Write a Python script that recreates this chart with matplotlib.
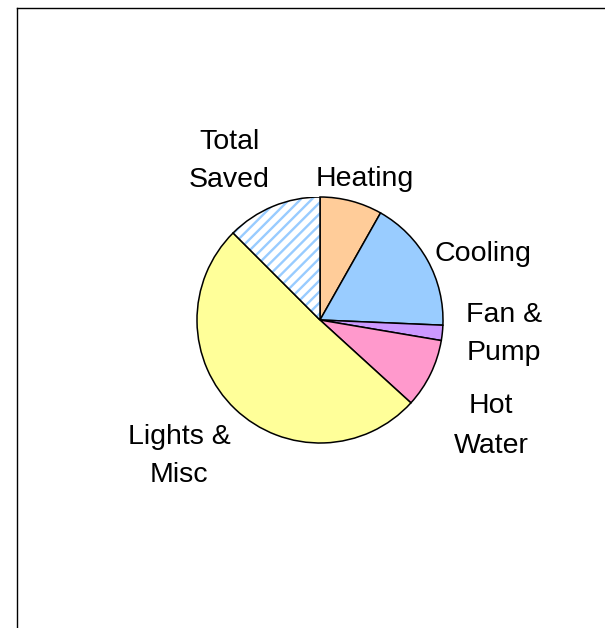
import matplotlib
matplotlib.use("Agg")
import matplotlib.pyplot as plt
from matplotlib.lines import Line2D
from matplotlib.patches import Wedge

categories = ["Heating", "Cooling", "Fan &\nPump", "Hot\nWater", "Lights &\nMisc", "Total\nSaved"]
shares = [8.2, 17.5, 2.0, 9.1, 50.8, 12.5]
colors = ["#FFCC99", "#99CCFF", "#CC99FF", "#FF99CC", "#FFFF99", "#FFFFFF"]
# label centres in pixels (x, y from top) and line spacing per label
label_pos = [(365, 179), (483, 254), (504, 334), (491, 426), (179, 456), (229, 161)]
label_spacing = [1.2, 1.2, 1.6, 1.68, 1.6, 1.63]

W, H = 605, 628
plt.rcParams["font.family"] = ["Liberation Sans", "DejaVu Sans"]
plt.rcParams["hatch.linewidth"] = 1.7

fig = plt.figure(figsize=(W / 100, H / 100), dpi=100)
cx, cy, r = 320, 320, 123
ax = fig.add_axes([(cx - r) / W, (H - cy - r) / H, 2 * r / W, 2 * r / H])
wedges, _ = ax.pie(shares, colors=colors, startangle=90, counterclock=False,
                   wedgeprops=dict(edgecolor="black", linewidth=1.1))
ax.set_xlim(-1, 1)
ax.set_ylim(-1, 1)
ax.axis("off")

# hatched "Total Saved" slice: light blue stripes, then black outline on top
sv = wedges[-1]
sv.set_edgecolor("#99CCFF")
sv.set_hatch("///")
sv.set_linewidth(0)
ax.add_patch(Wedge(sv.center, sv.r, sv.theta1, sv.theta2, fill=False,
                   edgecolor="black", linewidth=1.1))

for name, (x, y), ls in zip(categories, label_pos, label_spacing):
    fig.text(x / W, 1 - y / H, name, ha="center", va="center", fontsize=20.5,
             linespacing=ls)

# chart area border (top and left edges visible)
fig.add_artist(Line2D([17 / W, 17 / W], [0, 1 - 8 / H], color="black", lw=1.0,
                      transform=fig.transFigure))
fig.add_artist(Line2D([17 / W, 1], [1 - 8 / H, 1 - 8 / H], color="black", lw=1.0,
                      transform=fig.transFigure))

fig.savefig("out.png", dpi=100)
